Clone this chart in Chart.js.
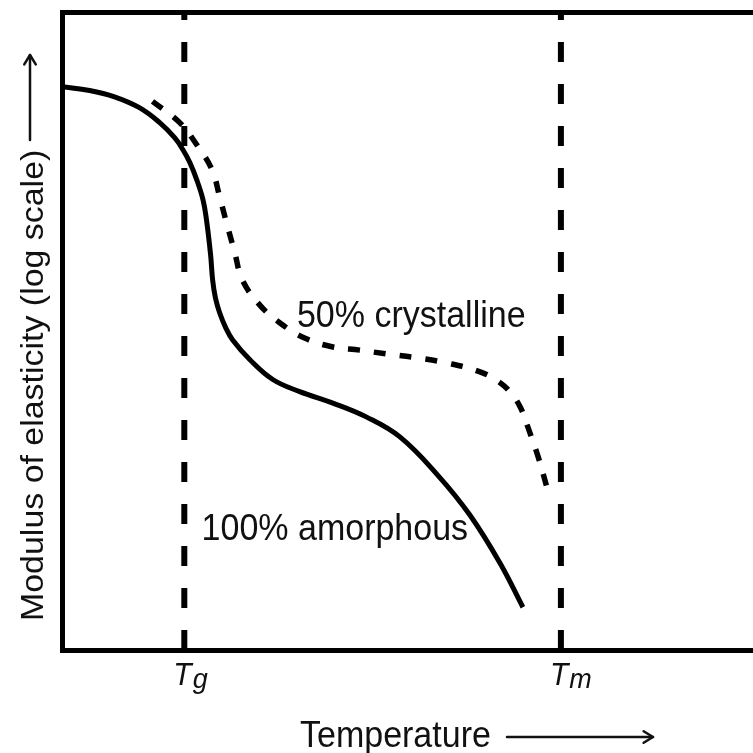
<!DOCTYPE html>
<html>
<head>
<meta charset="utf-8">
<title>Modulus of elasticity vs temperature</title>
<script src="https://cdn.jsdelivr.net/npm/chart.js@4.4.1/dist/chart.umd.min.js"></script>
<style>
  html, body { margin: 0; padding: 0; background: #fff; overflow: hidden; }
  canvas { display: block; }
</style>
</head>
<body>
<canvas id="modulusChart" width="753" height="753"></canvas>
<script>
// -------------------------------
// DATA (arbitrary units: temperature 0-100, log modulus 0-100)
// -------------------------------
const amorphousTemp = [0, 4.0, 7.6, 11.2, 14.1, 16.3, 17.5, 18.5, 19.5, 20.4, 20.9, 21.5, 21.8, 22.2, 22.8, 23.7, 24.7, 27.2, 30.5, 34.4, 39.2, 44.1, 48.9, 54.3, 59.0, 63.4, 66.7];
const amorphousModulus = [88.3, 87.7, 86.7, 85.0, 82.7, 80.3, 78.4, 76.4, 73.7, 70.6, 67.5, 62.0, 58.0, 55.2, 52.9, 50.5, 48.6, 45.5, 42.4, 40.5, 38.7, 36.5, 33.4, 27.5, 21.2, 13.6, 6.7];

const crystallineTemp = [13.1, 17.0, 19.5, 21.7, 22.8, 23.8, 25.0, 26.1, 28.6, 31.5, 35.1, 39.2, 43.1, 47.0, 51.3, 55.7, 60.5, 63.4, 65.1, 66.4, 67.4, 68.9, 70.2];
const crystallineModulus = [86.0, 82.7, 79.2, 75.3, 71.1, 67.0, 62.3, 58.0, 54.1, 51.3, 48.9, 47.5, 47.0, 46.4, 45.8, 45.0, 43.6, 41.9, 40.1, 37.9, 35.0, 30.3, 25.4];

// glass transition and melting temperatures
const transitionSubs = ["g", "m"];
const transitionTemps = [17.7, 72.2];

const axisMin = 0;
const axisMax = 100;

// -------------------------------
// STYLE
// -------------------------------
const FONT = '"Liberation Sans", Arial, Helvetica, sans-serif';
const INK = "#111";

// curve labels, anchored in data units
const curveLabels = [
    { text: "50% crystalline", x: 34.0, y: 50.7 },
    { text: "100% amorphous", x: 20.2, y: 17.2 }
];

function toPoints(xs, ys) {
    return xs.map((x, i) => ({ x: x, y: ys[i] }));
}

// -------------------------------
// DRAW HELPERS
// -------------------------------
function drawText(ctx, text, x, y, font, sx, sy) {
    ctx.save();
    ctx.translate(x, y);
    ctx.scale(sx, sy);
    ctx.font = font;
    ctx.fillStyle = INK;
    ctx.textBaseline = "alphabetic";
    ctx.fillText(text, 0, 0);
    ctx.restore();
}

function drawArrow(ctx, x1, y1, x2, y2) {
    const a = Math.atan2(y2 - y1, x2 - x1);
    const head = 11;
    ctx.save();
    ctx.strokeStyle = INK;
    ctx.lineWidth = 2.5;
    ctx.lineCap = "round";
    ctx.lineJoin = "round";
    ctx.beginPath();
    ctx.moveTo(x1, y1);
    ctx.lineTo(x2, y2);
    ctx.stroke();
    ctx.beginPath();
    ctx.moveTo(x2 - head * Math.cos(a - 0.55), y2 - head * Math.sin(a - 0.55));
    ctx.lineTo(x2, y2);
    ctx.lineTo(x2 - head * Math.cos(a + 0.55), y2 - head * Math.sin(a + 0.55));
    ctx.stroke();
    ctx.restore();
}

// -------------------------------
// LABELS PLUGIN (axis titles, Tg / Tm, curve names)
// -------------------------------
const labelsPlugin = {
    id: "labels",
    afterDraw(chart) {
        const ctx = chart.ctx;
        const xs = chart.scales.x;
        const ys = chart.scales.y;
        const bottom = chart.chartArea.bottom;

        curveLabels.forEach(l => {
            drawText(ctx, l.text, xs.getPixelForValue(l.x), ys.getPixelForValue(l.y),
                "34px " + FONT, 1, 1.08);
        });

        transitionTemps.forEach((t, i) => {
            const px = xs.getPixelForValue(t);
            ctx.save();
            ctx.font = "italic 30px " + FONT;
            const w = ctx.measureText("T").width;
            ctx.restore();
            drawText(ctx, "T", px - 11, bottom + 35, "italic 30px " + FONT, 1, 1.05);
            drawText(ctx, transitionSubs[i], px - 11 + w + 1, bottom + 38, "italic 27px " + FONT, 1, 1.05);
        });

        // x axis title
        drawText(ctx, "Temperature", 300, 747, "34px " + FONT, 1, 1.08);
        drawArrow(ctx, 507, 737, 653, 737);

        // y axis title, rotated
        ctx.save();
        ctx.translate(43, 621);
        ctx.rotate(-Math.PI / 2);
        ctx.scale(1.06, 1);
        ctx.font = "32px " + FONT;
        ctx.fillStyle = INK;
        ctx.fillText("Modulus of elasticity (log scale)", 0, 0);
        ctx.restore();
        drawArrow(ctx, 30, 140, 30, 55);
    }
};

// -------------------------------
// CHART
// -------------------------------
function frameScale(position) {
    return {
        type: "linear",
        position: position,
        min: axisMin,
        max: axisMax,
        ticks: { display: false },
        grid: { display: false, drawTicks: false },
        border: { display: true, width: 5, color: "#000" }
    };
}

function renderChart() {
    const ctx = document.getElementById("modulusChart");

    const guideLines = transitionTemps.map(t => ({
        data: [{ x: t, y: axisMin }, { x: t, y: axisMax }],
        showLine: true,
        borderColor: "#000",
        borderWidth: 6,
        borderDash: [20, 22],
        borderCapStyle: "butt",
        pointRadius: 0,
        tension: 0
    }));

    new Chart(ctx, {
        type: "scatter",
        data: {
            datasets: [
                ...guideLines,
                {
                    label: "100% amorphous",
                    data: toPoints(amorphousTemp, amorphousModulus),
                    showLine: true,
                    borderColor: "#000",
                    borderWidth: 5,
                    borderCapStyle: "butt",
                    borderJoinStyle: "round",
                    pointRadius: 0,
                    tension: 0.4
                },
                {
                    label: "50% crystalline",
                    data: toPoints(crystallineTemp, crystallineModulus),
                    showLine: true,
                    borderColor: "#000",
                    borderWidth: 5.5,
                    borderDash: [12, 14],
                    borderCapStyle: "butt",
                    pointRadius: 0,
                    tension: 0.4
                }
            ]
        },
        options: {
            responsive: false,
            animation: false,
            layout: { padding: { left: 62, top: 12, right: 0, bottom: 103 } },
            plugins: {
                legend: { display: false },
                tooltip: { enabled: false }
            },
            scales: {
                x: frameScale("bottom"),
                xTop: frameScale("top"),
                y: frameScale("left")
            }
        },
        plugins: [labelsPlugin]
    });
}

renderChart();
</script>
</body>
</html>
